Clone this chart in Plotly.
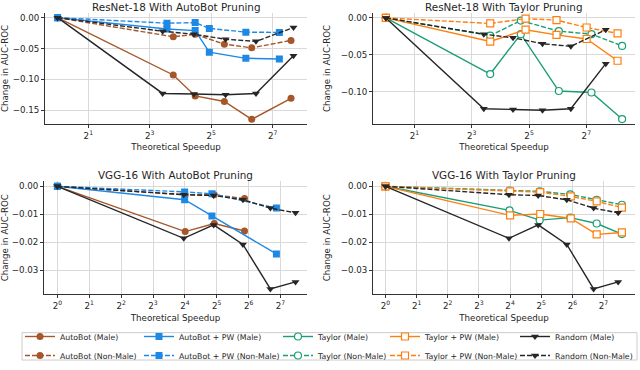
import math
import plotly.graph_objects as go
from plotly.subplots import make_subplots

# ---- ResNet-18 data (x = theoretical speedup, y = change in AUC-ROC) ----
rn_autobot_x = [1, 13.6, 22.3, 43.1, 79.9, 194.0]
rn_autobot_male = [0, -0.093, -0.127, -0.136, -0.165, -0.131]
rn_autobot_nonmale = [0, -0.031, -0.027, -0.043, -0.049, -0.037]

rn_autobot_pw_x = [1, 11.8, 22.3, 30.7, 70.0, 149.1]
rn_autobot_pw_male = [0, -0.0185, -0.021, -0.056, -0.066, -0.067]
rn_autobot_pw_nonmale = [0, -0.009, -0.008, -0.0175, -0.0235, -0.024]

rn_taylor_x = [1, 12.5, 26.2, 65.8, 145.0, 304.4]
rn_taylor_male = [0, -0.076, -0.022, -0.099, -0.101, -0.137]
rn_taylor_nonmale = [0, -0.024, -0.0036, -0.018, -0.022, -0.038]

rn_taylor_pw_x = [1, 12.5, 29.4, 62.2, 128.9, 272.5]
rn_taylor_pw_male = [0, -0.032, -0.016, -0.023, -0.0286, -0.058]
rn_taylor_pw_nonmale = [0, -0.0075, -0.001, -0.003, -0.013, -0.021]

rn_random_x = [1, 10.7, 21.7, 44.3, 88.0, 205.0]
rn_random_male = [0, -0.123, -0.124, -0.125, -0.123, -0.062]
rn_random_nonmale = [0, -0.022, -0.027, -0.035, -0.0385, -0.016]

# ---- VGG-16 data ----
vgg_autobot_x = [1, 16.1, 30.3, 58.5]
vgg_autobot_male = [0, -0.0162, -0.0133, -0.016]
vgg_autobot_nonmale = [0, -0.003, -0.003, -0.0044]

vgg_autobot_pw_x = [1, 15.9, 28.8, 117.0]
vgg_autobot_pw_male = [0, -0.0048, -0.0106, -0.0242]
vgg_autobot_pw_nonmale = [0, -0.002, -0.0027, -0.0078]

vgg_taylor_x = [1, 15.8, 30.9, 61.0, 109.9, 192.7]
vgg_taylor_male = [0, -0.0086, -0.0121, -0.0112, -0.0133, -0.0171]
vgg_taylor_nonmale = [0, -0.0015, -0.0018, -0.0029, -0.0048, -0.0066]

vgg_taylor_pw_x = [1, 16.0, 31.3, 61.8, 109.9, 192.7]
vgg_taylor_pw_male = [0, -0.0104, -0.0099, -0.0115, -0.0172, -0.0165]
vgg_taylor_pw_nonmale = [0, -0.0018, -0.0021, -0.0036, -0.0054, -0.0076]

vgg_random_x = [1, 15.6, 29.9, 56.5, 102.6, 177.3]
vgg_random_male = [0, -0.0186, -0.0138, -0.0208, -0.0367, -0.0342]
vgg_random_nonmale = [0, -0.003, -0.0033, -0.0048, -0.0078, -0.0095]

titles = ["ResNet-18 With AutoBot Pruning", "ResNet-18 With Taylor Pruning",
          "VGG-16 With AutoBot Pruning", "VGG-16 With Taylor Pruning"]

# method -> (label, colour, marker, open marker, legend id)
methods = {
    "autobot": ("AutoBot", "#a65628", "circle", False, "legend"),
    "autobot_pw": ("AutoBot + PW", "#1e88e5", "square", False, "legend2"),
    "taylor": ("Taylor", "#1b9e77", "circle", True, "legend3"),
    "taylor_pw": ("Taylor + PW", "#ff7f0e", "square", True, "legend4"),
    "random": ("Random", "#262626", "triangle-down", False, "legend5"),
}

panels = [
    [("autobot", rn_autobot_x, rn_autobot_male, rn_autobot_nonmale),
     ("autobot_pw", rn_autobot_pw_x, rn_autobot_pw_male, rn_autobot_pw_nonmale),
     ("random", rn_random_x, rn_random_male, rn_random_nonmale)],
    [("taylor", rn_taylor_x, rn_taylor_male, rn_taylor_nonmale),
     ("taylor_pw", rn_taylor_pw_x, rn_taylor_pw_male, rn_taylor_pw_nonmale),
     ("random", rn_random_x, rn_random_male, rn_random_nonmale)],
    [("autobot", vgg_autobot_x, vgg_autobot_male, vgg_autobot_nonmale),
     ("autobot_pw", vgg_autobot_pw_x, vgg_autobot_pw_male, vgg_autobot_pw_nonmale),
     ("random", vgg_random_x, vgg_random_male, vgg_random_nonmale)],
    [("taylor", vgg_taylor_x, vgg_taylor_male, vgg_taylor_nonmale),
     ("taylor_pw", vgg_taylor_pw_x, vgg_taylor_pw_male, vgg_taylor_pw_nonmale),
     ("random", vgg_random_x, vgg_random_male, vgg_random_nonmale)],
]

W, H = 640, 370
FONT = "DejaVu Sans"
TXT = "#262626"

fig = make_subplots(rows=2, cols=2)
shown = set()
for i, panel in enumerate(panels):
    row, col = i // 2 + 1, i % 2 + 1
    for key, xs, y_m, y_nm in panel:
        label, color, sym, hollow, leg = methods[key]
        first = key not in shown
        shown.add(key)
        for ys, who, dash in [(y_m, "Male", "solid"), (y_nm, "Non-Male", "5px,2px")]:
            fig.add_trace(go.Scatter(
                x=xs, y=ys, mode="lines+markers",
                name=f"{label} ({who})", legend=leg, showlegend=first,
                line=dict(color=color, width=1.4, dash=dash),
                marker=dict(symbol=sym, size=7,
                            color="white" if hollow else color,
                            line=dict(color=color, width=1.2 if hollow else 0))),
                row=row, col=col)

# panel geometry in pixels: (left, right, top, bottom)
boxes = [(45, 307, 13, 127), (373, 635, 13, 127),
         (44, 307, 185, 301), (373, 635, 185, 301)]
# x ranges in log2 units, y ranges
xranges = [(-0.41, 8.12), (-0.45, 8.7), (-0.42, 7.83), (-0.40, 8.01)]
yranges = [(-0.173, 0.008), (-0.144, 0.007), (-0.0387, 0.0019), (-0.0387, 0.0019)]
xexps = [[1, 3, 5, 7], [1, 3, 5, 7], list(range(8)), list(range(8))]
yticks = [[0, -0.05, -0.10, -0.15], [0, -0.05, -0.10],
          [0, -0.01, -0.02, -0.03], [0, -0.01, -0.02, -0.03]]

axis_common = dict(showline=True, linecolor="#333333", linewidth=1, mirror=False,
                   showgrid=True, gridcolor="#d9d9d9", gridwidth=1, zeroline=False,
                   ticks="outside", ticklen=3, tickcolor="#333333",
                   tickfont=dict(family=FONT, size=8.7, color=TXT), automargin=False)

for i in range(4):
    l, r, t, b = boxes[i]
    n = "" if i == 0 else str(i + 1)
    lg2 = math.log10(2)
    fig.layout["xaxis" + n].update(
        type="log", domain=[l / W, r / W],
        range=[xranges[i][0] * lg2, xranges[i][1] * lg2],
        tickvals=[2 ** k for k in xexps[i]],
        ticktext=[f"2<sup>{k}</sup>" for k in xexps[i]],
        title=dict(text="Theoretical Speedup", standoff=4,
                   font=dict(family=FONT, size=8.7, color=TXT)),
        **axis_common)
    fig.layout["yaxis" + n].update(
        domain=[1 - b / H, 1 - t / H], range=list(yranges[i]),
        tickvals=yticks[i],
        ticktext=[f"{v:.2f}".replace("-", "\u2212") if v else "0.00" for v in yticks[i]],
        title=dict(text="Change in AUC-ROC", standoff=8,
                   font=dict(family=FONT, size=8.7, color=TXT)),
        **axis_common)
    fig.add_annotation(text=titles[i], xref="paper", yref="paper",
                       x=(l + r) / 2 / W, y=1 - (t - 13) / H, showarrow=False,
                       xanchor="center", yanchor="top", borderpad=0,
                       font=dict(family=FONT, size=10.4, color=TXT))

# legend frame
fig.add_shape(type="rect", xref="paper", yref="paper",
              x0=22 / W, x1=637 / W, y0=1 - 368 / H, y1=1 - 340 / H,
              line=dict(color="#cccccc", width=1), fillcolor="white", layer="below")

legend_style = dict(orientation="v", yanchor="middle", y=1 - 354 / H, xanchor="left",
                    bgcolor="rgba(0,0,0,0)", borderwidth=0, itemwidth=30,
                    font=dict(family=FONT, size=7.8, color=TXT))
legend_x = {"legend": 20, "legend2": 139, "legend3": 278, "legend4": 385, "legend5": 515}
fig.update_layout(**{k: dict(x=v / W, **legend_style) for k, v in legend_x.items()})

fig.update_layout(width=W, height=H, margin=dict(l=0, r=0, t=0, b=0),
                  plot_bgcolor="white", paper_bgcolor="white",
                  font=dict(family=FONT, size=8.7, color=TXT))

# the page body has a default 8px margin; remove it so the figure fills the window
fig.write_html("out.html", config={"displayModeBar": False},
               post_script="document.body.style.margin='0';")
